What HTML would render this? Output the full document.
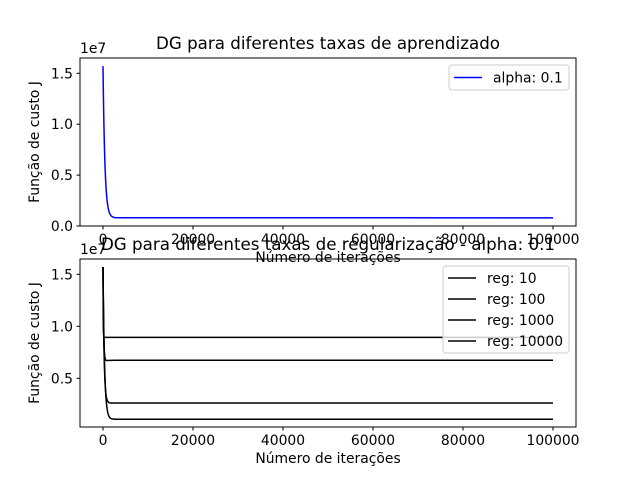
<!DOCTYPE html>
<html><head><meta charset="utf-8"><style>
body{margin:0;background:#fff}
svg{display:block;font-family:"DejaVu Sans","Liberation Sans",sans-serif}
</style></head><body>
<svg id="c" width="640" height="480"></svg>
<script>
const xTicks=[0,20000,40000,60000,80000,100000];
const yTicks=[0,0.5,1.0,1.5];
const yTicksB=[0.5,1.0,1.5];
const alphaStart=1.57, alphaFloor=0.08;
const regLabels=["reg: 10","reg: 100","reg: 1000","reg: 10000"];
const regFinal=[0.894,0.673,0.262,0.106];
const regDip=[0.894,0.60,0.25,0.106];
const NS="http://www.w3.org/2000/svg";
const svg=document.getElementById('c');
function el(t,a,txt){const e=document.createElementNS(NS,t);for(const k in a)e.setAttribute(k,a[k]);if(txt!==undefined)e.textContent=txt;svg.appendChild(e);return e;}
const L=80,R=576,FS=13.9,TS=16.7;
const xs=v=>103+(v/100000)*450;
function axes(top,bot,ys,ticks,title,ylab){
  const a=el('rect',{x:L,y:top,width:R-L,height:bot-top,fill:'none',stroke:'#000','stroke-width':1});
  
  xTicks.forEach(t=>{const x=xs(t);el('line',{x1:x,x2:x,y1:bot,y2:bot+3.5,stroke:'#000'});
    const tx=el('text',{x:x,y:bot+18,'font-size':FS,'text-anchor':'middle'},String(t));
    });
  ticks.forEach(t=>{const y=ys(t);el('line',{x1:L-3.5,x2:L,y1:y,y2:y,stroke:'#000'});
    const tx=el('text',{x:L-7,y:y+5,'font-size':FS,'text-anchor':'end'},t.toFixed(1));
    });
  const ex=el('text',{x:L,y:top-5,'font-size':FS},'1e7');
  
  const ti=el('text',{x:(L+R)/2,y:top-9,'font-size':TS,'text-anchor':'middle'},title);
  
  const yl=el('text',{x:0,y:0,'font-size':FS,'text-anchor':'middle',transform:`translate(39,${(top+bot)/2}) rotate(-90)`},'Função de custo J');
  
  const xl=el('text',{x:(L+R)/2,y:bot+36,'font-size':FS,'text-anchor':'middle'},'Número de iterações');
  
}
function curve(start,dip,fin,ys,k){
  let pts=[];
  for(let i=0;i<=60;i++){const t=i*50;const v=dip+(start-dip)*Math.exp(-t/k)+(fin-dip)*(1-Math.exp(-t/300))*(dip!==fin?1:0);pts.push(xs(t)+','+ys(v));}
  pts.push(xs(100000)+','+ys(fin));return pts.join(' ');
}
const ysT=v=>226-v*101.8;
const ln=el('polyline',{points:curve(alphaStart,alphaFloor,alphaFloor,ysT,420),fill:'none',stroke:'#0000ff','stroke-width':1.5});

axes(58,226,ysT,yTicks,'DG para diferentes taxas de aprendizado','top');
const ysB=v=>430.3-v*104;
regFinal.forEach((f,i)=>{const p=el('polyline',{points:curve(1.57,regDip[i],f,ysB,40+i*100),fill:'none',stroke:'#000','stroke-width':1.5});
  });
axes(259,427,ysB,yTicksB,'DG para diferentes taxas de regularização - alpha: 0.1','bottom');
const lg=el('rect',{x:449,y:65,width:120,height:25,rx:3,fill:'#fff','fill-opacity':0.8,stroke:'#ccc'});

el('line',{x1:454,x2:482,y1:77.5,y2:77.5,stroke:'#0000ff','stroke-width':1.5});
const lt=el('text',{x:493,y:82.5,'font-size':FS},'alpha: 0.1');
const lg2=el('rect',{x:443,y:266,width:126,height:87,rx:3,fill:'#fff','fill-opacity':0.8,stroke:'#ccc'});

regLabels.forEach((s,i)=>{const y=278+i*21;el('line',{x1:448,x2:476,y1:y,y2:y,stroke:'#000','stroke-width':1.5});
  const t=el('text',{x:487,y:y+5,'font-size':FS},s);});
</script>
</body></html>
